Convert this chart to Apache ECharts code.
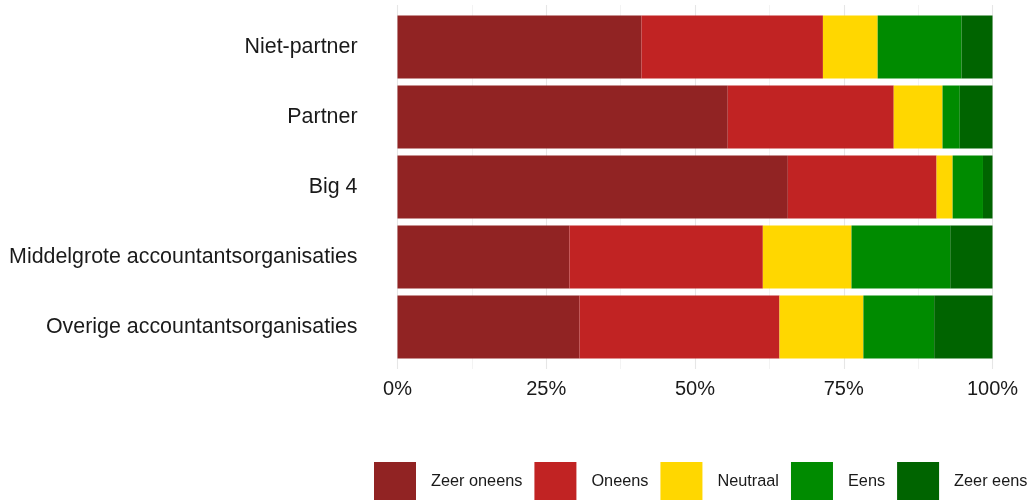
<!DOCTYPE html>
<html>
<head>
<meta charset="utf-8">
<script src="https://cdn.jsdelivr.net/npm/echarts@6/dist/echarts.min.js"></script>
<style>
html,body{margin:0;padding:0;background:#fff;}
#chart{width:1030px;height:500px;}
</style>
</head>
<body>
<div id="chart"></div>
<script>
const categories = ['Niet-partner', 'Partner', 'Big 4', 'Middelgrote accountantsorganisaties', 'Overige accountantsorganisaties'];
const seriesNames = ['Zeer oneens', 'Oneens', 'Neutraal', 'Eens', 'Zeer eens'];
const zeerOneens = [41.0, 55.5, 65.6, 28.9, 30.6];
const oneens     = [30.5, 27.9, 25.0, 32.5, 33.6];
const neutraal   = [9.2, 8.2, 2.7, 14.9, 14.1];
const eens       = [14.1, 2.9, 5.1, 16.6, 11.9];
const zeerEens   = [5.2, 5.5, 1.6, 7.1, 9.8];
const colors = ['#912323', '#C12323', '#FFD700', '#008B00', '#006400'];
const allValues = [zeerOneens, oneens, neutraal, eens, zeerEens];

const FONT = '"Liberation Sans", Arial, sans-serif';
const chart = echarts.init(document.getElementById('chart'), null, {renderer: 'canvas'});

const series = seriesNames.map((name, i) => ({
  name: name,
  type: 'bar',
  stack: 'total',
  xAxisIndex: 0,
  yAxisIndex: 0,
  barWidth: 63,
  data: allValues[i],
  itemStyle: {color: colors[i]},
  emphasis: {disabled: true}
}));

chart.setOption({
  animation: false,
  backgroundColor: '#ffffff',
  textStyle: {fontFamily: FONT},
  grid: [
    {left: 397.5, right: 37.5, top: 12, height: 350, containLabel: false},
    {left: 397.5, right: 37.5, top: 5, height: 364, containLabel: false}
  ],
  xAxis: [
    {
      type: 'value', gridIndex: 0, min: 0, max: 100,
      show: false
    },
    {
      type: 'value', gridIndex: 1, min: 0, max: 100, interval: 25,
      axisLine: {show: false},
      axisTick: {show: false},
      axisLabel: {
        formatter: v => v + '%',
        fontSize: 20,
        color: '#1a1a1a',
        fontFamily: FONT,
        margin: 10
      },
      splitLine: {show: true, lineStyle: {color: '#e6e6e6', width: 1.1}},
      minorTick: {show: false, splitNumber: 2},
      minorSplitLine: {show: true, lineStyle: {color: '#f0f0f0', width: 0.8}}
    }
  ],
  yAxis: [
    {
      type: 'category', gridIndex: 0, data: categories, inverse: true,
      axisLine: {show: false},
      axisTick: {show: false},
      splitLine: {show: false},
      axisLabel: {fontSize: 21.4, color: '#1a1a1a', fontFamily: FONT, margin: 40}
    },
    {
      type: 'category', gridIndex: 1, data: categories, show: false
    }
  ],
  legend: {
    data: seriesNames,
    left: 374,
    top: 462,
    width: 700,
    padding: 0,
    orient: 'horizontal',
    itemWidth: 42,
    itemHeight: 40,
    itemGap: 12,
    icon: 'rect',
    selectedMode: false,
    textStyle: {fontSize: 16.3, color: '#1a1a1a', fontFamily: FONT, padding: [0, 0, 0, 10]}
  },
  series: series
});
</script>
</body>
</html>
